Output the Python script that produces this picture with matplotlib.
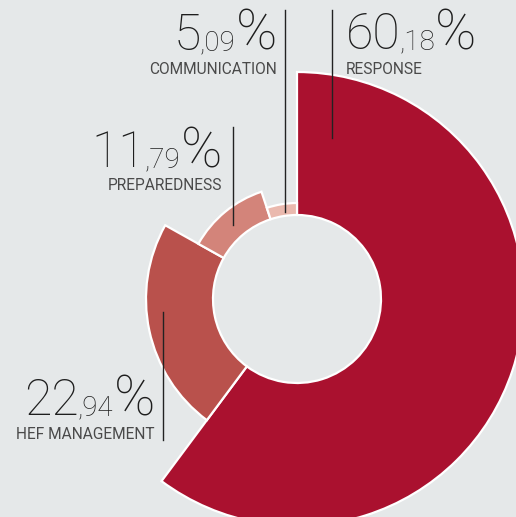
import matplotlib
matplotlib.use('Agg')
import matplotlib.pyplot as plt
from matplotlib.patches import Wedge

# data
categories = ['RESPONSE', 'HEF MANAGEMENT', 'PREPAREDNESS', 'COMMUNICATION']
shares = [60.18, 22.94, 11.79, 5.09]

# style
colors = ['#AA112F', '#B9514C', '#D3847A', '#EAB9AE']
outer_r = [227, 151, 113, 96]
inner_r = 84
center = (297, 299)
bg = '#E5E8E9'

# label placement (pixel coords): anchor x, number baseline, label baseline, align, leader line
label_pos = [
    (346, 49, 74, 'left', (332, 10, 138)),
    (155, 415, 439, 'right', (163, 312, 440)),
    (222, 167, 190, 'right', (233, 127, 225)),
    (277, 50, 74, 'right', (285, 10, 212)),
]

fig = plt.figure(figsize=(5.16, 5.17), dpi=100, facecolor=bg)
ax = fig.add_axes([0, 0, 1, 1])
ax.set_xlim(0, 516)
ax.set_ylim(517, 0)
ax.set_facecolor(bg)
ax.axis('off')

# slices clockwise from 12 o'clock
total = sum(shares)
start = 0.0
for val, col, r in zip(shares, colors, outer_r):
    span = val / total * 360.0
    w = Wedge(center, r, start - 90, start + span - 90, width=r - inner_r,
              facecolor=col, edgecolor='white', linewidth=1.6, zorder=2)
    ax.add_patch(w)
    start += span

renderer = fig.canvas.get_renderer()
big = dict(family='Roboto', fontweight='light', fontsize=36, color='#1e1e1e')
small = dict(family='Roboto', fontweight='light', fontsize=20, color='#1e1e1e')
pct = dict(family='Roboto', fontweight='light', fontsize=40, color='#1e1e1e')
lab = dict(family='Roboto', fontsize=11.2, color='#4a4a4a')


def draw_value(x, y, val, align):
    whole, dec = ('%.2f' % val).split('.')
    parts = [(whole, big), (',' + dec, small), ('%', pct)]
    texts = [ax.text(0, y, s, va='baseline', ha='left', zorder=4, **kw)
             for s, kw in parts]
    widths = [t.get_window_extent(renderer).width for t in texts]
    gaps = [0, -1, 0]
    total_w = sum(widths) + sum(gaps)
    cx = x if align == 'left' else x - total_w
    for t, wd, g in zip(texts, widths, gaps):
        cx += g
        t.set_x(cx)
        cx += wd


for name, val, (x, yb, yl, align, (lx, ly0, ly1)) in zip(categories, shares, label_pos):
    draw_value(x, yb, val, align)
    ax.text(x, yl, name, va='baseline', ha=align, zorder=4, **lab)
    ax.plot([lx, lx], [ly0, ly1], color='#222222', lw=1.0, zorder=3)

fig.savefig('out.png', dpi=100, facecolor=bg)
